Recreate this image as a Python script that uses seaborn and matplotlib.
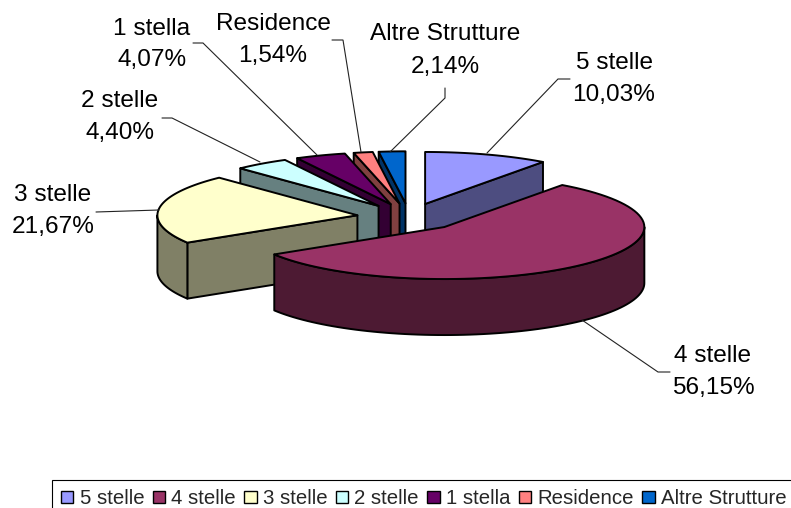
import matplotlib
matplotlib.use("Agg")
import matplotlib.pyplot as plt
from matplotlib.patches import Polygon, Patch
import seaborn as sns
import numpy as np

categories = ["5 stelle", "4 stelle", "3 stelle", "2 stelle", "1 stella", "Residence", "Altre Strutture"]
values = [10.03, 56.15, 21.67, 4.40, 4.07, 1.54, 2.14]
top_colors = ["#9999FF", "#993366", "#FFFFCC", "#CCFFFF", "#660066", "#FF8080", "#0066CC"]

# where the text labels sit (x, y of the two lines)
label_pos = [(614, 63, 95), (713, 356, 388), (53, 195, 227), (120, 101, 133),
             (152, 29, 60), (273, 24, 56), (445, 34, 67)]
leaders = [[(487, 153), (558, 79), (570, 79)],
           [(582, 320), (658, 372), (670, 372)],
           [(159, 210), (96, 212)],
           [(260, 162), (172, 118), (162, 118)],
           [(317, 155), (203, 43), (193, 43)],
           [(361, 152), (343, 40), (332, 40)],
           [(390, 152), (445, 98), (445, 88)]]

# pie geometry, pixels
cx, cy = 409, 217
rx, ry = 200, 52
ex, ey = 52, 13.7
depth = 56

sns.set_theme(style="white")
plt.rcParams["font.family"] = ["Liberation Sans", "DejaVu Sans"]
palette = sns.color_palette(top_colors)

fig = plt.figure(figsize=(7.91, 5.08), dpi=100)
ax = fig.add_axes([0, 0, 1, 1])
ax.set_xlim(0, 791)
ax.set_ylim(508, 0)
ax.axis("off")

fractions = np.array(values) / sum(values) * 360
ends = np.cumsum(fractions)
starts = ends - fractions


def rim(a0, a1, ox, oy, dz=0):
    t = np.radians(np.linspace(a0, a1, 80))
    return np.column_stack([ox + rx * np.sin(t), oy - ry * np.cos(t) + dz])


def poly(points, color, z):
    ax.add_patch(Polygon(points, closed=True, facecolor=color, edgecolor="black",
                         linewidth=1.4, joinstyle="round", zorder=z))


# back to front
order = [6, 5, 4, 3, 0, 2, 1]
for z, i in enumerate(order):
    a0, a1 = starts[i], ends[i]
    mid = np.radians((a0 + a1) / 2)
    ox = cx + ex * np.sin(mid)
    oy = cy - ey * np.cos(mid)
    top = palette[i]
    wall = tuple(c * 0.5 for c in top)
    base = z * 10 + 5
    for a, vis in [(a0, np.sin(np.radians(a0)) < -1e-6), (a1, np.sin(np.radians(a1)) > 1e-6)]:
        if vis:
            p = rim(a, a, ox, oy)[0]
            poly([(ox, oy), p, (p[0], p[1] + depth), (ox, oy + depth)], wall, base)
    lo, hi = max(a0, 90), min(a1, 270)
    if hi > lo:
        poly(np.vstack([rim(lo, hi, ox, oy), rim(hi, lo, ox, oy, depth)]), wall, base + 1)
    poly(np.vstack([[(ox, oy)], rim(a0, a1, ox, oy)]), top, base + 2)

for pts in leaders:
    xs, ys = zip(*pts)
    ax.plot(xs, ys, color="#222222", lw=0.8, zorder=200, solid_joinstyle="miter")

for name, v, (x, y1, y2) in zip(categories, values, label_pos):
    ax.text(x, y1, name, ha="center", va="center", fontsize=17.6, color="black", zorder=300)
    ax.text(x, y2, f"{v:.2f}%".replace(".", ","), ha="center", va="center", fontsize=17.6,
            color="black", zorder=300)

handles = [Patch(facecolor=c, edgecolor="black", linewidth=1.0) for c in palette]
leg = ax.legend(handles, categories, ncol=7, loc="upper left", bbox_to_anchor=(52, 480),
                bbox_transform=ax.transData, borderaxespad=0, fontsize=14.7, frameon=True,
                fancybox=False, edgecolor="black", framealpha=1, handlelength=0.6,
                handleheight=0.6, handletextpad=0.3, columnspacing=0.42, borderpad=0.45)
leg.get_frame().set_linewidth(0.8)
leg.set_zorder(400)

fig.savefig("out.png", dpi=100)
